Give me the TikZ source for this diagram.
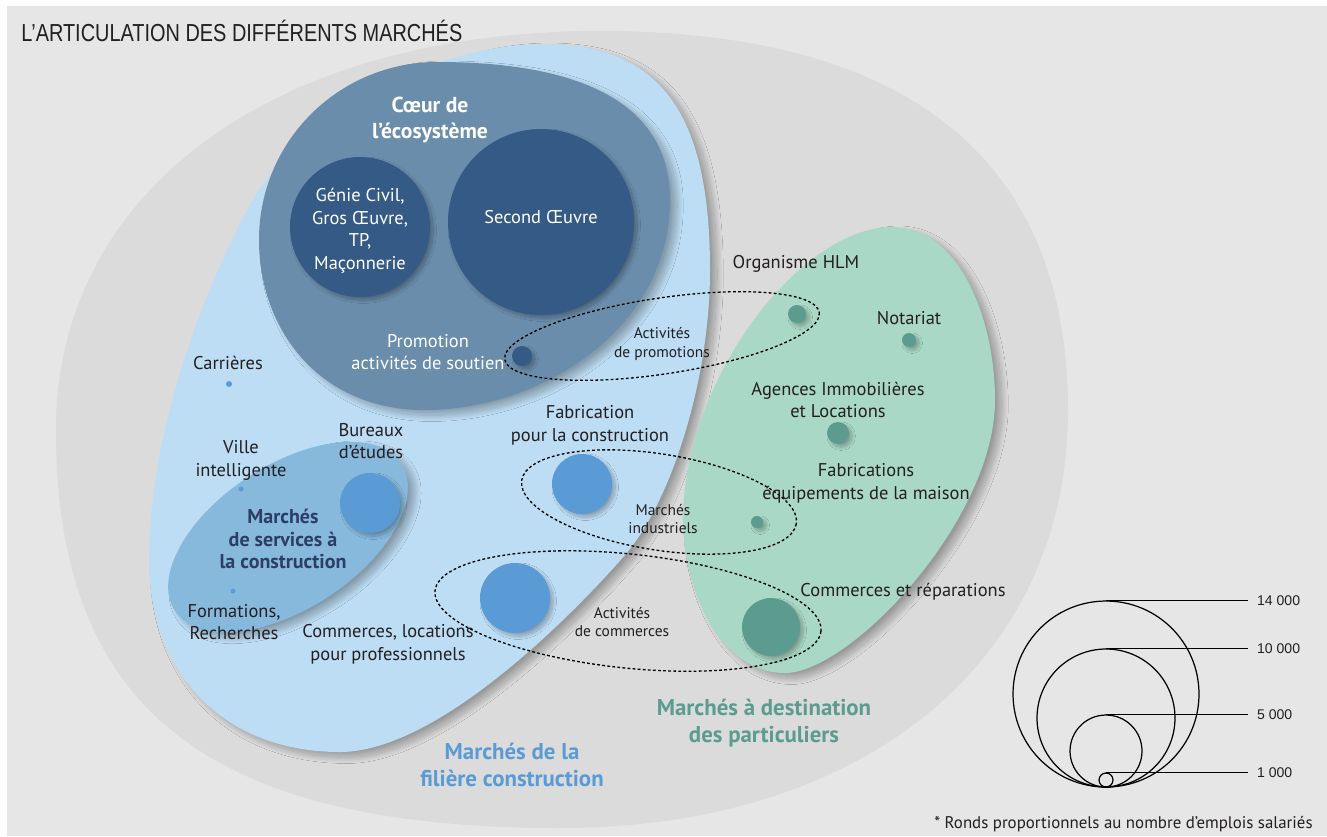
\documentclass[tikz,border=0pt]{standalone}
\usepackage{fontspec}
\setmainfont{PT Sans}
\newfontfamily\titrefont[FakeStretch=0.81]{Liberation Sans}
\newfontfamily\chiffrefont{Liberation Sans}
\usetikzlibrary{shadows.blur}

\definecolor{fondclair}{RGB}{230,230,230}
\definecolor{fondgris}{RGB}{219,219,219}
\definecolor{filiere}{RGB}{189,221,244}
\definecolor{coeur}{RGB}{106,141,171}
\definecolor{marine}{RGB}{52,90,133}
\definecolor{services}{RGB}{135,185,220}
\definecolor{bleuvif}{RGB}{91,155,213}
\definecolor{particuliers}{RGB}{170,216,198}
\definecolor{sarcelle}{RGB}{92,156,142}
\definecolor{encre}{RGB}{35,31,32}
\definecolor{nuit}{RGB}{44,62,102}

\begin{document}
\begin{tikzpicture}[x=0.02cm,y=-0.02cm,
		ombre/.style={blur shadow={shadow xshift=1.8pt,shadow yshift=-1.8pt,shadow blur radius=1.8pt,shadow blur steps=24,shadow opacity=28}},
		grandeombre/.style={blur shadow={shadow xshift=4pt,shadow yshift=-3pt,shadow blur radius=3.5pt,shadow blur steps=30,shadow opacity=30}},
		rond/.style={circle,inner sep=0pt,fill=#1,ombre},
		texte/.style={align=center,inner sep=0pt,text=encre,font=\fontsize{10.5}{13}\selectfont},
		petit/.style={texte,font=\fontsize{8.8}{10.8}\selectfont},
		titre/.style={align=center,inner sep=0pt,font=\bfseries\fontsize{13}{15}\selectfont},
		pointille/.style={draw=black,line width=0.75pt,dash pattern=on 1.6pt off 1.3pt},
		echelle/.style={circle,draw=black,line width=0.7pt,inner sep=0pt},
		chiffre/.style={anchor=west,inner sep=0pt,inner xsep=5pt,text=encre,font=\chiffrefont\fontsize{8}{9}\selectfont}]
		\useasboundingbox (0,0) rectangle (1327,836);
		\fill[white] (0,0) rectangle (1327,836);
		\fill[fondclair] (7,6) rectangle (1327,836);

		%zones: quatre arcs de Bezier, coordonnees en pixels
		\fill[fondgris] (600,31) .. controls (909,31) and (1068,160) .. (1068,410)
		.. controls (1068,661) and (865,828) .. (560,828)
		.. controls (207,828) and (56,709) .. (56,430)
		.. controls (56,191) and (274,31) .. cycle;
		\fill[filiere,grandeombre] (542,44) .. controls (660,44) and (710,112) .. (710,270)
		.. controls (710,380) and (671,502) .. (625,555)
		.. controls (579,608) and (440,752) .. (340,752)
		.. controls (225,752) and (149,675) .. (149,560)
		.. controls (149,430) and (206,284) .. (250,205)
		.. controls (304,109) and (442,44) .. cycle;
		\fill[particuliers,grandeombre] (892,227) .. controls (960,227) and (995,320) .. (995,400)
		.. controls (995,520) and (850,673) .. (785,673)
		.. controls (720,673) and (683,590) .. (683,520)
		.. controls (683,380) and (800,227) .. cycle;
		\fill[coeur,grandeombre] (437,62) .. controls (575,62) and (670,100) .. (670,200)
		.. controls (670,330) and (540,410) .. (424,410)
		.. controls (320,410) and (259,330) .. (259,240)
		.. controls (259,140) and (340,62) .. cycle;
		\fill[services,grandeombre,shift={(288,537)},rotate=33] (0,0) ellipse [x radius=135,y radius=72];

		%\node (nom) at(x,y) [rond=couleur, minimum size=diametre] {}
		\node (genie) at (360,227) [rond=marine,minimum size=2.8cm] {};
		\node (second) at (541,222) [rond=marine,minimum size=3.72cm] {};
		\node (promo) at (522,356) [rond=marine,minimum size=0.4cm] {};
		\node (hlm) at (797,314) [rond=sarcelle,minimum size=0.36cm] {};
		\node (notariat) at (909,340) [rond=sarcelle,minimum size=0.28cm] {};
		\node (agences) at (838,433) [rond=sarcelle,minimum size=0.44cm] {};
		\node (equip) at (757,522) [rond=sarcelle,minimum size=0.24cm] {};
		\node (reparations) at (771,627) [rond=sarcelle,minimum size=1.16cm] {};
		\node (fabrication) at (582,484) [rond=bleuvif,minimum size=1.2cm] {};
		\node (commerces) at (515,598) [rond=bleuvif,minimum size=1.4cm] {};
		\node (bureaux) at (370,503) [rond=bleuvif,minimum size=1.2cm] {};
		\node (carrieres) at (229,384) [circle,inner sep=0pt,fill=bleuvif,minimum size=0.12cm] {};
		\node (ville) at (241,489) [circle,inner sep=0pt,fill=bleuvif,minimum size=0.1cm] {};
		\node (formations) at (233,591) [circle,inner sep=0pt,fill=bleuvif,minimum size=0.1cm] {};

		%ellipses en pointilles: centre, puis rotation
		\draw[pointille,shift={(662,336)},rotate=8.5] (0,0) ellipse [x radius=159,y radius=38];
		\draw[pointille,shift={(659,502)},rotate=-9] (0,0) ellipse [x radius=139,y radius=48];
		\draw[pointille,shift={(628,611)},rotate=-6] (0,0) ellipse [x radius=194,y radius=57];

		%textes
		\node (titre) at (21,31) [anchor=west,inner sep=0pt,text=encre,font=\titrefont\fontsize{14}{16}\selectfont] {L’ARTICULATION DES DIFFÉRENTS MARCHÉS};
		\node (lcoeur) at (430,120) [titre,text=white,font=\bfseries\fontsize{12.3}{14.8}\selectfont] {Cœur de\\l’écosystème};
		\node (lgenie) at (360,231) [texte,text=white,font=\fontsize{10.5}{12.8}\selectfont] {Génie Civil,\\Gros Œuvre,\\TP,\\Maçonnerie};
		\node (lsecond) at (541,217) [texte,text=white] {Second Œuvre};
		\node (lpromo) at (428,352) [texte,text=white] {Promotion\\activités de soutien};
		\node (lhlm) at (796,264) [texte] {Organisme HLM};
		\node (lnotariat) at (909,318) [texte] {Notariat};
		\node (lagences) at (838,400) [texte] {Agences Immobilières\\et Locations};
		\node (lequip) at (866,483) [texte] {Fabrications\\équipements de la maison};
		\node (lreparations) at (903,592) [texte] {Commerces et réparations};
		\node (lfabrication) at (590,425) [texte] {Fabrication\\pour la construction};
		\node (lcarrieres) at (228,363) [texte] {Carrières};
		\node (lville) at (241,460) [texte] {Ville\\intelligente};
		\node (lbureaux) at (371,441) [texte] {Bureaux\\d’études};
		\node (lformations) at (234,622) [texte] {Formations,\\Recherches};
		\node (lcommerces) at (388,644) [texte] {Commerces, locations\\pour professionnels};
		\node (apromo) at (662,344) [petit] {Activités\\de promotions};
		\node (aindus) at (663,519) [petit] {Marchés\\industriels};
		\node (acommerces) at (622,622) [petit] {Activités\\de commerces};
		\node (lservices) at (283,539) [titre,text=nuit,font=\bfseries\fontsize{11.4}{12.8}\selectfont] {Marchés\\de services à\\la construction};
		\node (lfiliere) at (512,765) [titre,text=bleuvif] {Marchés de la\\filière construction};
		\node (lparticuliers) at (764,723) [titre,text=sarcelle] {Marchés à destination\\des particuliers};

		%legende: ronds tangents en bas
		\node (e14) at (1106,694) [echelle,minimum size=3.72cm] {};
		\node (e10) at (1106,718) [echelle,minimum size=2.76cm] {};
		\node (e5) at (1106,751) [echelle,minimum size=1.44cm] {};
		\node (e1) at (1106,780) [echelle,minimum size=0.28cm] {};
		\node (n14) at (1248,601) [chiffre] {14 000};
		\node (n10) at (1248,649) [chiffre] {10 000};
		\node (n5) at (1248,715) [chiffre] {5 000};
		\node (n1) at (1248,773) [chiffre] {1 000};
		\draw[line width=0.55pt]
		(e14.north) -- (e14.north -| n14.west)
		(e10.north) -- (e10.north -| n10.west)
		(e5.north) -- (e5.north -| n5.west)
		(e1.north) -- (e1.north -| n1.west);
		\node (note) at (1313,824) [anchor=east,inner sep=0pt,text=encre,font=\fontsize{9.6}{11}\selectfont] {* Ronds proportionnels au nombre d’emplois salariés};
\end{tikzpicture}
\end{document}
